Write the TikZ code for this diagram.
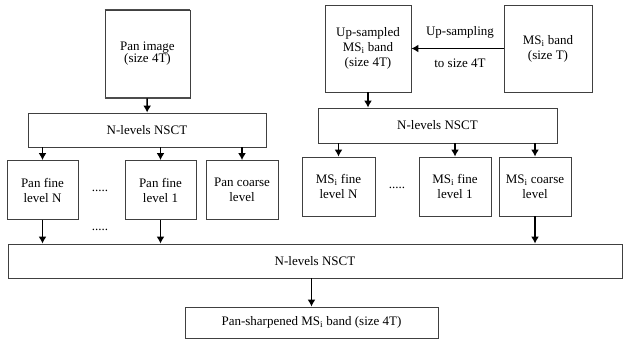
\documentclass[tikz,border=0pt]{standalone}
\usepackage{fontspec}
\setmainfont{Liberation Serif}
\usetikzlibrary{arrows.meta}

\begin{document}
\begin{tikzpicture}[x=1pt,y=-1pt,
	box/.style={draw=black!75, line width=0.8pt, align=center, inner sep=0pt, font=\fontsize{13}{15}\selectfont},
	lbl/.style={align=center, font=\fontsize{13}{15}\selectfont},
	arr/.style={-{Latex[length=7pt,width=8pt]}, line width=1.5pt}]
	\useasboundingbox (0,0) rectangle (625,339);
	% pan branch
	\node[box, minimum width=85pt, minimum height=88pt, font=\fontsize{13}{12}\selectfont] (pan) at (147.5,54) {Pan image\\(size 4T)};
	\draw[line width=1.8pt, black!70] (pan.north west) -- (pan.north east);
	\draw[line width=1.8pt, black!70] (pan.south west) -- (pan.south east);
	\node[box, minimum width=238pt, minimum height=34pt] (nsctL) at (147,130) {N-levels NSCT};
	\node[box, minimum width=71pt, minimum height=59pt] (panN) at (42.5,190) {Pan fine\\level N};
	\node[box, minimum width=71pt, minimum height=59pt] (pan1) at (160.5,190) {Pan fine\\level 1};
	\node[box, minimum width=72pt, minimum height=59pt] (panC) at (242,190) {Pan coarse\\level};
	\node[lbl] (dotsA) at (100,191) {.....};
	\node[lbl] (dotsB) at (100,230) {.....};
	% ms branch
	\node[box, minimum width=86pt, minimum height=87pt] (up) at (368,48.5) {Up-sampled\\MS\textsubscript{i} band\\(size 4T)};
	\node[box, minimum width=88pt, minimum height=87pt] (ms) at (548,48.5) {MS\textsubscript{i} band\\(size T)};
	\node[lbl] (upl) at (460,32) {Up-sampling};
	\node[lbl] (tol) at (460,63) {to size 4T};
	\node[box, minimum width=239pt, minimum height=35pt] (nsctR) at (437.5,125.5) {N-levels NSCT};
	\node[box, minimum width=73pt, minimum height=59pt] (msN) at (338.5,186.5) {MS\textsubscript{i} fine\\level N};
	\node[box, minimum width=72pt, minimum height=59pt] (ms1) at (455,186.5) {MS\textsubscript{i} fine\\level 1};
	\node[box, minimum width=72pt, minimum height=59pt] (msC) at (535,186.5) {MS\textsubscript{i} coarse\\level};
	\node[lbl] (dotsC) at (397,188) {.....};
	% fusion
	\node[box, minimum width=614pt, minimum height=34pt] (nsct) at (315,261) {N-levels NSCT};
	\node[box, minimum width=253pt, minimum height=31pt] (out) at (311.5,322.5) {Pan-sharpened MS\textsubscript{i} band (size 4T)};
	\draw[arr] (pan) -- (nsctL);
	\draw[arr] (ms) -- (up);
	\draw[arr] (up) -- (nsctR.north -| up);
	\foreach \b in {panN,pan1,panC} \draw[arr] (nsctL.south -| \b) -- (\b);
	\foreach \b in {msN,ms1,msC} \draw[arr] (nsctR.south -| \b) -- (\b);
	\foreach \b in {panN,pan1,msC} \draw[arr] (\b) -- (nsct.north -| \b);
	\draw[arr] (nsct.south -| out) -- (out);
\end{tikzpicture}
\end{document}
